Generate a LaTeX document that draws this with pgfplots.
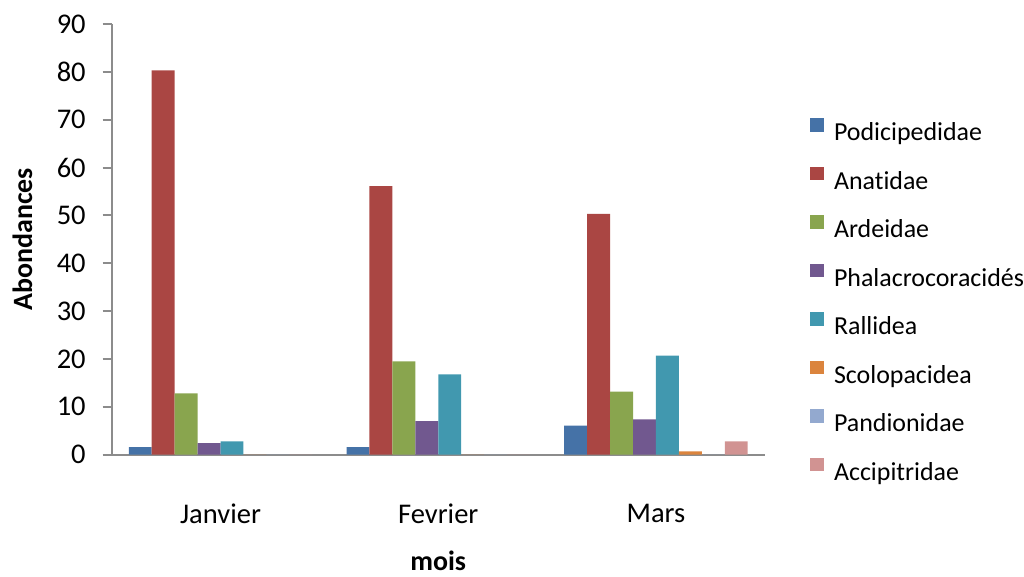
\documentclass[border=0pt]{standalone}
\usepackage{pgfplots}
\pgfplotsset{compat=1.18}
\usepackage{fontspec}
\setmainfont{Carlito}[Ligatures=NoCommon]

\definecolor{cPod}{HTML}{4572A7}
\definecolor{cAna}{HTML}{AA4643}
\definecolor{cArd}{HTML}{89A54E}
\definecolor{cPha}{HTML}{71588F}
\definecolor{cRal}{HTML}{4198AF}
\definecolor{cSco}{HTML}{DB843D}
\definecolor{cPan}{HTML}{93A9CF}
\definecolor{cAcc}{HTML}{D19392}
\definecolor{axgray}{HTML}{8C8C8C}

\begin{document}
\begin{tikzpicture}
\begin{axis}[
  scale only axis,
  width=327.5pt, height=216pt,
  ybar=0pt, bar width=11.5pt,
  xmin=-0.5, xmax=2.5,
  ymin=0, ymax=90,
  ytick={0,10,...,90},
  xtick={0,1,2},
  xticklabels={Janvier,Fevrier,Mars},
  major x tick style={draw=none},
  axis x line*=bottom, axis y line*=left,
  axis line style={axgray, line width=1pt},
  y axis line style={-}, x axis line style={-},
  ytick style={axgray, line width=1pt},
  tick align=outside,
  major tick length=4.5pt,
  tick label style={font=\fontsize{14.3}{17}\selectfont},
  /pgf/number format/assume math mode=true,
  yticklabel style={xshift=-5pt},
  xticklabel style={anchor=center, yshift=-25pt},
  ylabel={\textbf{Abondances}},
  xlabel={\textbf{mois}},
  label style={font=\fontsize{14}{17}\selectfont},
  ylabel style={at={(axis description cs:0,0.5)}, anchor=center, rotate=0, yshift=44.75pt},
  xlabel style={at={(axis description cs:0.5,0)}, anchor=center, yshift=-53pt},
  legend style={draw=none, fill=none, inner sep=0pt,
    at={(axis description cs:1.0687,0.355)}, anchor=west,
    font=\fontsize{13}{15}\selectfont, row sep=10.6pt,
    nodes={inner sep=0pt, text height=9.5pt, text depth=2.5pt},
    legend cell align=left},
  legend image code/.code={%
    \path (0pt,0pt) (12pt,0pt);
    \fill[#1] (0pt,1pt) rectangle (6.75pt,7.75pt);},
]
\addplot[fill=cPod, draw=none] coordinates {(0,1.6) (1,1.6) (2,6.1)};
\addplot[fill=cAna, draw=none] coordinates {(0,80.3) (1,56.1) (2,50.3)};
\addplot[fill=cArd, draw=none] coordinates {(0,12.8) (1,19.5) (2,13.2)};
\addplot[fill=cPha, draw=none] coordinates {(0,2.4) (1,7.0) (2,7.4)};
\addplot[fill=cRal, draw=none] coordinates {(0,2.8) (1,16.8) (2,20.7)};
\addplot[fill=cSco, draw=none] coordinates {(0,0) (1,0) (2,0.7)};
\addplot[fill=cPan, draw=none] coordinates {(0,0) (1,0) (2,0)};
\addplot[fill=cAcc, draw=none] coordinates {(0,0) (1,0) (2,2.8)};
\legend{Podicipedidae,Anatidae,Ardeidae,Phalacrocoracidés,Rallidea,Scolopacidea,Pandionidae,Accipitridae}
\end{axis}
% page margins around the plot area
\path ([xshift=-56pt, yshift=-58pt]current axis.south west)
      ([xshift=128.5pt, yshift=12pt]current axis.north east);
\end{tikzpicture}
\end{document}
